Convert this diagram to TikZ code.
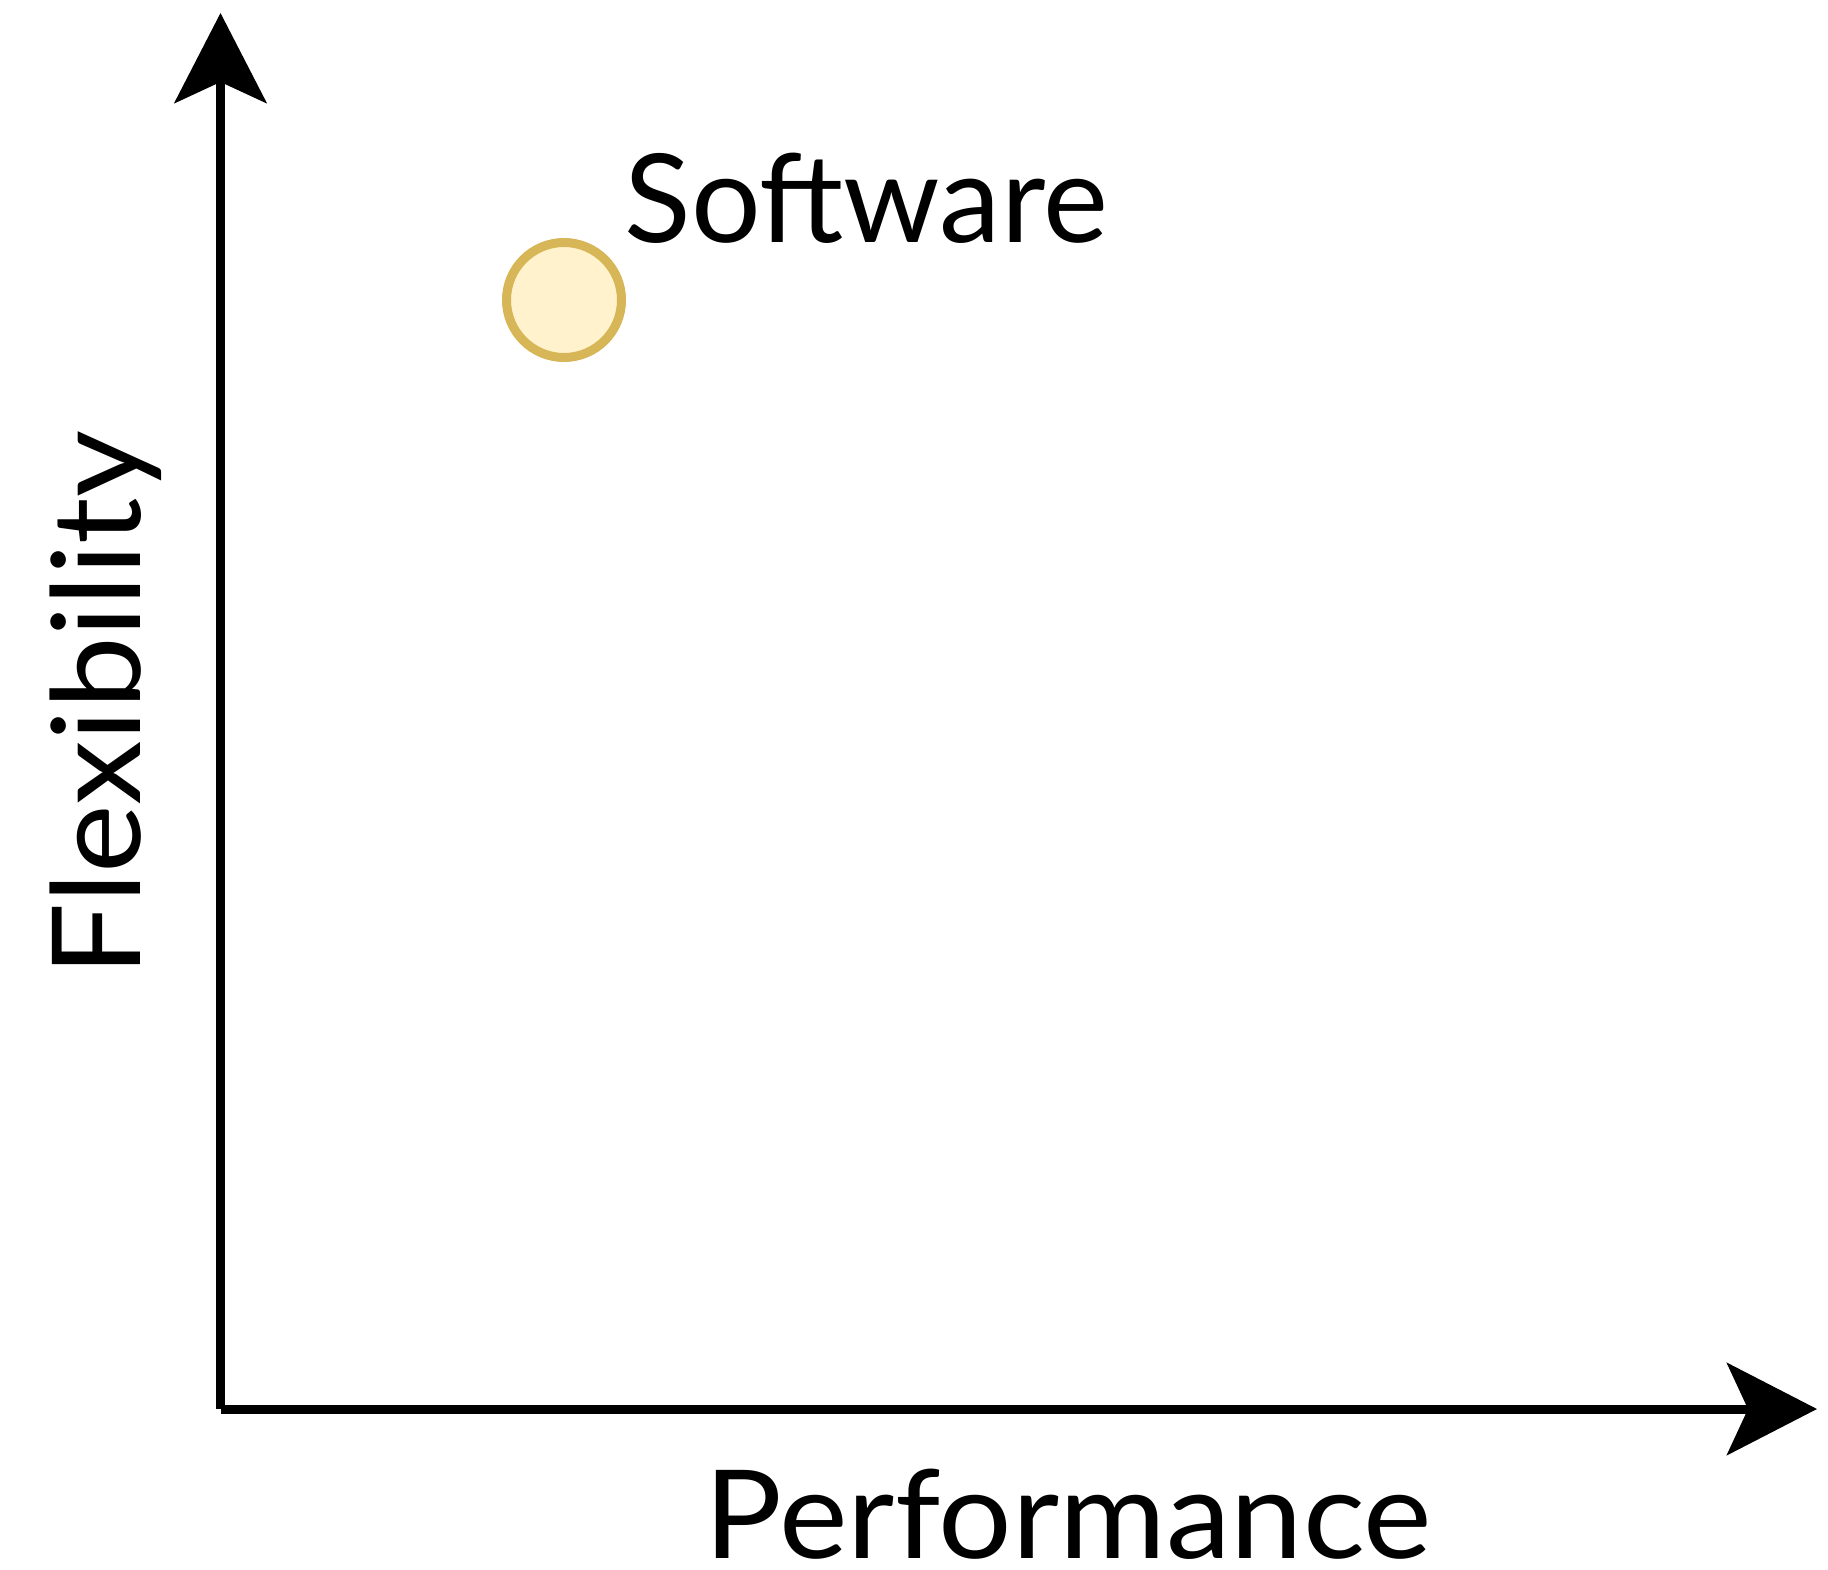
\documentclass[tikz,border=0pt]{standalone}
\usepackage{fontspec}
\setmainfont{Lato}
\newfontfamily\widefont[FakeStretch=1.055]{Lato}
\usepackage{tikz}
\usetikzlibrary{arrows.meta}

\definecolor{dotfill}{HTML}{FFF2CC}
\definecolor{dotline}{HTML}{D6B656}

\tikzset{
  axis/.style={color=black, line width=0.09cm, -{Stealth[length=0.9cm, width=0.92cm, inset=0.21cm]}},
  label/.style={font=\fontsize{35}{40}\selectfont, inner sep=0pt}
}

\begin{document}
\begin{tikzpicture}
  \useasboundingbox (0,0) rectangle (18.28,15.69);
  \coordinate (origin) at (2.205, 1.60);
  \coordinate (ytop) at (2.205, 15.56);
  \coordinate (xend) at (18.17, 1.60);
  \draw[axis] (origin) -- (ytop);
  \draw[axis] (origin) -- (xend);

  \node[label, anchor=base west] (perf) at (7.04, 0.11) {\widefont Performance};
  \node[label, anchor=base west, rotate=90] (flex) at (1.40, 5.92) {\widefont Flexibility};

  \node[circle, draw=dotline, fill=dotfill, line width=0.09cm, minimum size=1.15cm, inner sep=0pt] (sw) at (5.64, 12.69) {};
  \node[label, anchor=base west] (swlabel) at (6.24, 13.265) {Software};
\end{tikzpicture}
\end{document}
